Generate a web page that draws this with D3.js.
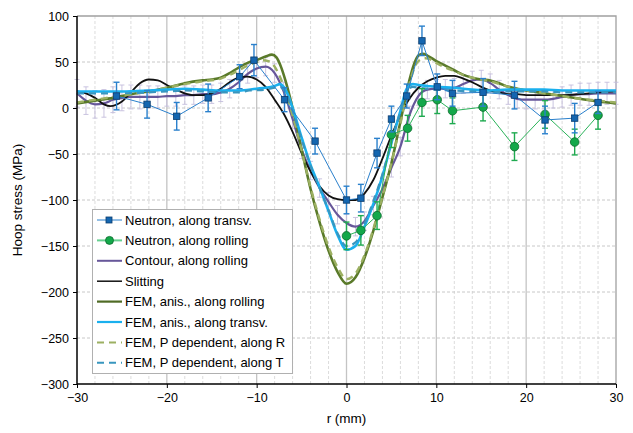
<!DOCTYPE html>
<html lang="en">
<head>
<meta charset="UTF-8">
<title>Hoop stress</title>
<script src="https://d3js.org/d3.v7.min.js"></script>
<style>
  body { margin: 0; background: #fff; }
  text { font-family: "Liberation Sans", Arial, sans-serif; fill: #000; }
</style>
</head>
<body>
<svg width="633" height="433"></svg>
<script>
// neutron, along transverse
const transvR = [-25.6, -22.2, -18.9, -15.4, -11.9, -10.3, -6.9, -3.5, 0, 1.6, 3.4, 5.0, 6.7, 8.4, 10.1, 11.8, 15.2, 18.7, 22.1, 25.4, 28.0];
const transvS = [13, 4, -9, 11, 34, 52, 9, -36, -100, -98, -49, -12, 13, 73, 23, 16, 17, 14, -13, -11, 6];
const transvErr = [15, 15, 15, 15, 13, 17, 13, 14, 15, 15, 16, 14, 13, 16, 14, 14, 15, 15, 15, 16, 12];

// neutron, along rolling
const rollR = [0, 1.6, 3.4, 5.0, 6.8, 8.4, 10.1, 11.8, 15.2, 18.7, 22.1, 25.4, 28.0];
const rollS = [-139, -133, -117, -29, -22, 6, 9, -3, 1, -42, -7, -37, -8];
const rollErr = [15, 16, 15, 14, 14, 15, 15, 14, 15, 15, 15, 14, 15];

// contour, along rolling (1 mm steps)
const contourR = d3.range(-30, 31, 1);
const contourS = [16, 8, 4, 5, 9, 11, 12, 12, 12, 12, 13, 13, 14, 14, 15, 15, 17, 21, 28, 37, 43, 45, 38, 18, -12, -45, -68, -87, -102, -116, -125,
                  -129, -123, -106, -88, -65, -42, -8, 13, 20, 21, 21, 22, 26, 30, 31, 27, 20, 14, 10, 9, 9, 9, 10, 12, 14, 15, 15, 16, 16, 16];
const contourErr = [15, 15, 15, 15, 14, 14, 13, 13, 12, 12, 11, 11, 10, 10, 10, 10, 10, 10, 10, 10, 10, 10, 10, 10, 10, 10, 10, 10, 10, 10, 10,
                    10, 10, 10, 10, 10, 10, 10, 10, 10, 10, 10, 10, 10, 10, 10, 10, 10, 10, 10, 10, 10, 10, 10, 11, 11, 12, 12, 12, 12, 12];

// slitting
const slitR = [-30, -29, -28, -27, -26.3, -25, -24, -23, -22, -21, -20, -19, -18, -17, -16, -15, -14, -13, -12, -11, -10, -9, -8, -7, -6, -5, -4, -3, -2, -1, 0,
               1, 2, 3, 4, 5, 6, 7, 8, 9, 10, 11, 12, 13, 14, 15, 16, 17, 18, 19, 20, 22, 24, 26, 28, 30];
const slitS = [18, 16, 11, 4, 2, 7, 17, 27, 31, 30, 25, 20, 16, 14, 14, 16, 21, 28, 33, 34, 31, 23, 9, -6, -26, -49, -69, -85, -95, -99, -100,
               -100, -93, -78, -55, -30, -8, 10, 22, 29, 33, 35, 35, 32, 28, 23, 19, 17, 15, 15, 14, 14, 14, 15, 17, 18];

// FEM, anisotropic, along rolling
const femRR = [-30, -28, -26, -24, -22, -20, -18, -16, -15, -14, -13, -12, -11, -10, -9, -8.3, -7.8, -7.3, -6.8, -6.3, -6, -5, -4, -3, -2, -1, 0,
               1, 2, 3, 4, 5, 6, 7, 7.5, 8, 8.5, 9, 10, 11, 12, 13, 14, 15, 16, 17, 18, 19, 20, 22, 24, 26, 28, 30];
const femRS = [5, 8, 11, 15, 18, 22, 27, 30, 31, 33, 38, 44, 49, 52, 56, 58, 55, 45, 30, 12, 0, -45, -88, -124, -155, -178, -191,
               -184, -163, -133, -97, -60, -15, 30, 47, 57, 59, 57, 51, 46, 41, 36, 33, 31, 30, 27, 23, 21, 19, 16, 13, 10, 7, 5];

// FEM, anisotropic, along transverse
const femTR = [-30, -25, -22, -20, -18, -16, -14, -12, -10, -9, -8, -7.4, -7, -6.5, -6, -5, -4, -3, -2, -1, 0,
               1, 2, 3, 4, 5, 6, 6.7, 7.4, 8, 9, 10, 12, 14, 16, 18, 20, 22, 24, 26, 28, 30];
const femTS = [18, 18, 19, 20, 21, 20, 19, 19, 21, 22, 24, 26, 23, 14, 0, -32, -62, -86, -112, -138, -154,
               -150, -129, -104, -74, -38, -3, 21, 26, 25, 24, 23, 22, 20, 19, 20, 20, 20, 19, 19, 19, 19];

// FEM, P dependent, along R
const pdRR = [-30, -28, -26, -24, -22, -20, -18, -16, -14, -13, -12, -11, -10, -9.4, -8.7, -8, -7.5, -7, -6.5, -6, -5, -4, -3, -2, -1, 0,
              1, 2, 3, 4, 5, 6, 7, 7.5, 8, 8.8, 9.5, 10, 11, 12, 13, 14, 15, 16, 18, 20, 22, 24, 26, 28, 30];
const pdRS = [6, 9, 12, 15, 18, 22, 26, 29, 32, 36, 41, 46, 50, 52, 51, 45, 36, 24, 8, -8, -46, -86, -121, -151, -173, -186,
              -180, -160, -131, -96, -60, -17, 26, 42, 51, 54, 52, 49, 44, 40, 36, 33, 31, 29, 23, 19, 16, 13, 10, 8, 6];

// FEM, P dependent, along T
const pdTR = [-30, -25, -22, -20, -18, -16, -14, -12, -10.8, -9, -8, -7.4, -7, -6.5, -6, -5, -4, -3, -2, -1, 0,
              1, 2, 3, 4, 5, 6, 6.7, 7.4, 8, 9, 10, 12, 14, 16, 18, 20, 22, 24, 26, 28, 30];
const pdTS = [16, 16, 17, 18, 19, 18, 17, 17, 19, 20, 22, 23, 20, 11, -3, -34, -63, -87, -111, -136, -150,
              -146, -126, -101, -72, -37, -4, 18, 23, 22, 21, 20, 19, 18, 17, 18, 18, 18, 17, 17, 17, 17];

const xTicks = [-30, -20, -10, 0, 10, 20, 30];
const yTicks = [100, 50, 0, -50, -100, -150, -200, -250, -300];

const svg = d3.select("svg");
const pLeft = 77, pRight = 616, pTop = 16, pBottom = 384;

const x = d3.scaleLinear().domain([-30, 30]).range([pLeft, pRight]);
const y = d3.scaleLinear().domain([-300, 100]).range([pBottom, pTop]);

// grid
const grid = svg.append("g");
grid.selectAll("line.minor")
  .data(d3.range(-28, 30, 2).filter(v => v % 10 !== 0))
  .enter().append("line")
  .attr("x1", d => x(d)).attr("x2", d => x(d))
  .attr("y1", pTop).attr("y2", pBottom)
  .attr("stroke", "#dcdcdc").attr("stroke-dasharray", "3,2");
grid.selectAll("line.hgrid")
  .data(yTicks.filter(v => v !== 100 && v !== -300))
  .enter().append("line")
  .attr("x1", pLeft).attr("x2", pRight)
  .attr("y1", d => y(d)).attr("y2", d => y(d))
  .attr("stroke", "#c8c8c8").attr("stroke-dasharray", "3,2");
grid.selectAll("line.major")
  .data([-20, -10, 0, 10, 20])
  .enter().append("line")
  .attr("x1", d => x(d)).attr("x2", d => x(d))
  .attr("y1", pTop).attr("y2", pBottom)
  .attr("stroke", "#c4c4c4").attr("stroke-width", 1.3);

// frame top / right
svg.append("path")
  .attr("d", `M${pLeft},${pTop}H${pRight}V${pBottom}`)
  .attr("fill", "none").attr("stroke", "#a0a0a0").attr("stroke-width", 1.3);

const line = d3.line().x(d => x(d[0])).y(d => y(d[1])).curve(d3.curveMonotoneX);
const zip = (a, b) => a.map((v, i) => [v, b[i]]);

// contour error bars
const cg = svg.append("g").attr("stroke", "#c4bddd").attr("stroke-width", 0.9);
contourR.forEach((r, i) => {
  const cx = x(r), y1 = y(contourS[i] + contourErr[i]), y2 = y(contourS[i] - contourErr[i]);
  cg.append("line").attr("x1", cx).attr("x2", cx).attr("y1", y1).attr("y2", y2);
  cg.append("line").attr("x1", cx - 2.5).attr("x2", cx + 2.5).attr("y1", y1).attr("y2", y1);
  cg.append("line").attr("x1", cx - 2.5).attr("x2", cx + 2.5).attr("y1", y2).attr("y2", y2);
});

function drawLine(r, s, color, width, dash) {
  svg.append("path")
    .datum(zip(r, s))
    .attr("d", line)
    .attr("fill", "none")
    .attr("stroke", color)
    .attr("stroke-width", width)
    .attr("stroke-dasharray", dash || null);
}

drawLine(contourR, contourS, "#67579a", 2.2);
drawLine(slitR, slitS, "#111111", 1.8);
drawLine(femRR, femRS, "#5a7a2a", 2.6);
drawLine(pdRR, pdRS, "#9cb062", 2.4, "7,5");
drawLine(femTR, femTS, "#1ab0ee", 2.6);
drawLine(pdTR, pdTS, "#3896bf", 2.2, "7,5");

function errorBars(r, s, e, color) {
  const g = svg.append("g").attr("stroke", color).attr("stroke-width", 1.4);
  r.forEach((v, i) => {
    const cx = x(v), y1 = y(s[i] + e[i]), y2 = y(s[i] - e[i]);
    g.append("line").attr("x1", cx).attr("x2", cx).attr("y1", y1).attr("y2", y2);
    g.append("line").attr("x1", cx - 3).attr("x2", cx + 3).attr("y1", y1).attr("y2", y1);
    g.append("line").attr("x1", cx - 3).attr("x2", cx + 3).attr("y1", y2).attr("y2", y2);
  });
}

// neutron rolling
errorBars(rollR, rollS, rollErr, "#1faa50");
svg.append("path").datum(zip(rollR, rollS))
  .attr("d", d3.line().x(d => x(d[0])).y(d => y(d[1])))
  .attr("fill", "none").attr("stroke", "#2bb35a").attr("stroke-width", 1);
svg.selectAll("circle.roll").data(zip(rollR, rollS)).enter().append("circle")
  .attr("cx", d => x(d[0])).attr("cy", d => y(d[1])).attr("r", 4.3)
  .attr("fill", "#13a84a").attr("stroke", "#0c6a2c").attr("stroke-width", 0.8);

// neutron transverse
errorBars(transvR, transvS, transvErr, "#2a80cc");
svg.append("path").datum(zip(transvR, transvS))
  .attr("d", d3.line().x(d => x(d[0])).y(d => y(d[1])))
  .attr("fill", "none").attr("stroke", "#2a80cc").attr("stroke-width", 1);
svg.selectAll("rect.tr").data(zip(transvR, transvS)).enter().append("rect")
  .attr("x", d => x(d[0]) - 3.2).attr("y", d => y(d[1]) - 3.2)
  .attr("width", 6.4).attr("height", 6.4)
  .attr("fill", "#1466b0").attr("stroke", "#0b3c6e").attr("stroke-width", 0.8);

// axes
const xAxis = svg.append("g").attr("transform", `translate(0,${pBottom})`)
  .call(d3.axisBottom(x).tickValues(xTicks).tickSize(4).tickPadding(5).tickFormat(d3.format("d")));
const yAxis = svg.append("g").attr("transform", `translate(${pLeft},0)`)
  .call(d3.axisLeft(y).tickValues(yTicks).tickSize(4).tickPadding(4).tickFormat(d3.format("d")));
[xAxis, yAxis].forEach(a => {
  a.select(".domain").attr("stroke", "#000").attr("stroke-width", 1.5);
  a.selectAll(".tick line").attr("stroke", "#000");
  a.selectAll(".tick text").attr("font-size", 12.5).attr("font-family", "Liberation Sans, Arial, sans-serif");
});
xAxis.select(".domain").attr("d", `M${pLeft},0H${pRight}`);
yAxis.select(".domain").attr("d", `M0,${pTop}V${pBottom}`);

svg.append("text").attr("x", (pLeft + pRight) / 2).attr("y", 423)
  .attr("text-anchor", "middle").attr("font-size", 13.5).text("r (mm)");
svg.append("text").attr("transform", `translate(22,${(pTop + pBottom) / 2}) rotate(-90)`)
  .attr("text-anchor", "middle").attr("font-size", 13.5).text("Hoop stress (MPa)");

// legend
const legendItems = [
  { name: "Neutron, along transv.", color: "#2a80cc", w: 1, marker: "square" },
  { name: "Neutron, along rolling", color: "#66d090", w: 2, marker: "circle" },
  { name: "Contour, along rolling", color: "#67579a", w: 2 },
  { name: "Slitting", color: "#111111", w: 1.5 },
  { name: "FEM, anis., along rolling", color: "#4f6b25", w: 2.2 },
  { name: "FEM, anis., along transv.", color: "#1ab0ee", w: 2.2 },
  { name: "FEM, P dependent, along R", color: "#9cb062", w: 2, dash: "7,5" },
  { name: "FEM, P dependent, along T", color: "#3896bf", w: 2, dash: "7,5" }
];
const lg = svg.append("g");
lg.append("rect").attr("x", 92.5).attr("y", 209.5).attr("width", 200).attr("height", 164)
  .attr("fill", "#fff").attr("stroke", "#b0b0b0");
legendItems.forEach((it, i) => {
  const ly = 220 + i * 20.4;
  lg.append("line").attr("x1", 97).attr("x2", 122).attr("y1", ly).attr("y2", ly)
    .attr("stroke", it.color).attr("stroke-width", it.w).attr("stroke-dasharray", it.dash || null);
  if (it.marker === "square") {
    lg.append("rect").attr("x", 106).attr("y", ly - 3).attr("width", 6).attr("height", 6)
      .attr("fill", "#1466b0").attr("stroke", "#0b3c6e").attr("stroke-width", 0.8);
  } else if (it.marker === "circle") {
    lg.append("circle").attr("cx", 109.5).attr("cy", ly).attr("r", 4)
      .attr("fill", "#13a84a").attr("stroke", "#0c6a2c").attr("stroke-width", 0.8);
  }
  lg.append("text").attr("x", 125).attr("y", ly + 4.5).attr("font-size", 13).text(it.name);
});
</script>
</body>
</html>
